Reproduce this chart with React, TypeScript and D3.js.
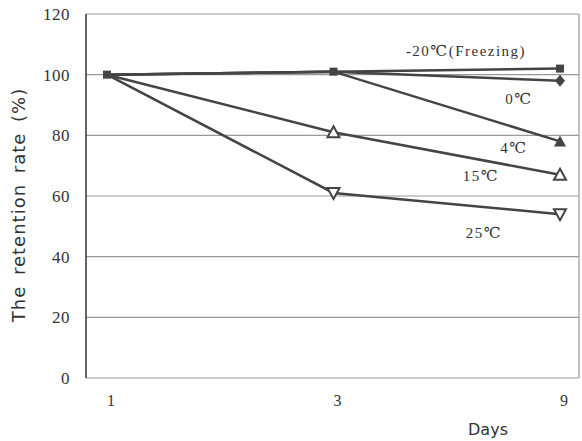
import React from "react";
import * as d3 from "d3";

const days = ["1", "3", "9"];
const yTicks = [0, 20, 40, 60, 80, 100, 120];
const series = [
  { name: "-20℃(Freezing)", values: [100, 101, 102], marker: "square" },
  { name: "0℃", values: [100, 101, 98], marker: "diamond" },
  { name: "4℃", values: [100, 101, 78], marker: "triangle" },
  { name: "15℃", values: [100, 81, 67], marker: "triangleOpen" },
  { name: "25℃", values: [100, 61, 54], marker: "triangleDownOpen" },
];
const labelPos = [
  { x: 466, y: 56 },
  { x: 519, y: 104 },
  { x: 514, y: 153 },
  { x: 481, y: 181 },
  { x: 484, y: 238 },
];

export default function App() {
  const W = 582, H = 441;
  const left = 86, right = 579, top = 14, bottom = 378;
  const x = d3.scalePoint<string>().domain(days).range([107, 560]);
  const y = d3.scaleLinear().domain([0, 120]).range([bottom, top]);
  const line = d3
    .line<number>()
    .x((_, i) => x(days[i])!)
    .y((d) => y(d));
  const stroke = "#444";
  const serif = "'Liberation Serif', 'DejaVu Serif', serif";
  const marker = (type: string, cx: number, cy: number, key: string) => {
    if (type === "square")
      return <rect key={key} x={cx - 4} y={cy - 4} width={8} height={8} fill={stroke} />;
    if (type === "diamond")
      return <path key={key} d={`M${cx},${cy - 6}L${cx + 5},${cy}L${cx},${cy + 6}L${cx - 5},${cy}Z`} fill={stroke} />;
    if (type === "triangle")
      return <path key={key} d={`M${cx},${cy - 6}L${cx + 6},${cy + 5}L${cx - 6},${cy + 5}Z`} fill={stroke} />;
    if (type === "triangleOpen")
      return <path key={key} d={`M${cx},${cy - 6}L${cx + 6},${cy + 5}L${cx - 6},${cy + 5}Z`} fill="#fff" stroke={stroke} strokeWidth={2} />;
    return <path key={key} d={`M${cx},${cy + 6}L${cx + 6},${cy - 5}L${cx - 6},${cy - 5}Z`} fill="#fff" stroke={stroke} strokeWidth={2} />;
  };
  const base = series[0].values;
  return (
    <svg width={W} height={H} style={{ position: "absolute", left: 0, top: 0, background: "#fff" }}>
      {yTicks.map((t) => (
        <g key={t}>
          <line x1={left} x2={right} y1={y(t)} y2={y(t)} stroke="#999" strokeWidth={1.2} />
          <text x={70} y={y(t) + 6} textAnchor="end" style={{ fontFamily: serif }} fontSize={17} letterSpacing={0.5} fill="#333">
            {t}
          </text>
        </g>
      ))}
      <line x1={right} x2={right} y1={top} y2={bottom} stroke="#999" strokeWidth={1.2} />
      <line x1={left} x2={left} y1={top} y2={bottom} stroke="#333" strokeWidth={1.5} />
      {days.map((d) => (
        <text key={d} x={x(d)! + 4} y={406} textAnchor="middle" style={{ fontFamily: serif }} fontSize={16} fill="#333">
          {d}
        </text>
      ))}
      <text x={488} y={435} textAnchor="middle" fontFamily="DejaVu Sans, sans-serif" fontSize={16} fill="#333">
        Days
      </text>
      <text
        transform={`translate(25,205) rotate(-90)`}
        textAnchor="middle"
        fontFamily="DejaVu Sans, sans-serif"
        fontSize={18}
        letterSpacing={1}
        wordSpacing={4}
        fill="#333"
      >
        The retention rate (%)
      </text>
      {series.map((s) => (
        <path key={s.name} d={line(s.values)!} fill="none" stroke={stroke} strokeWidth={2.5} />
      ))}
      {series.map((s, si) => (
        <g key={s.name + "m"}>
          {s.values.map((v, i) =>
            si > 0 && v === base[i] ? null : marker(s.marker, x(days[i])!, y(v), `${si}-${i}`)
          )}
          <text x={labelPos[si].x} y={labelPos[si].y} textAnchor="middle" style={{ fontFamily: serif }} fontSize={15} letterSpacing={1.5} fill="#333">
            {s.name}
          </text>
        </g>
      ))}
    </svg>
  );
}
